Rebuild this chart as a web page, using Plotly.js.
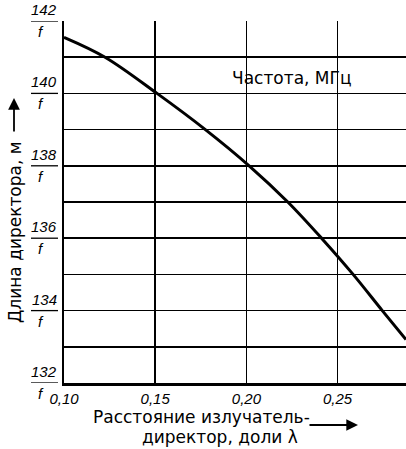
<!DOCTYPE html>
<html>
<head>
<meta charset="utf-8">
<script src="https://cdn.plot.ly/plotly-3.0.1.min.js"></script>
<style>html,body{margin:0;padding:0;background:#fff;}#chart{width:406px;height:449px;}</style>
</head>
<body>
<div id="chart"></div>
<script>
// Data
const spacing = [0.100, 0.1225, 0.1510, 0.1775, 0.2015, 0.2227, 0.2412, 0.2585, 0.2745, 0.2875];
const length  = [141.55, 141.0, 140.0, 139.0, 138.0, 137.0, 136.0, 135.0, 134.0, 133.2];
const xTickVals = [0.10, 0.15, 0.20, 0.25];
const xTickText = ["0,10", "0,15", "0,20", "0,25"];
const yGridVals = [132, 133, 134, 135, 136, 137, 138, 139, 140, 141, 142];
const yLabelVals = [132, 134, 136, 138, 140, 142];
const yLabelNum = ["132", "134", "136", "138", "140", "142"];
const yLabelDen = "f";
const curveLabel = "Частота, МГц";
const yTitle = "Длина директора, м";
const xTitle1 = "Расстояние излучатель-";
const xTitle2 = "директор, доли λ";

const FONT = "DejaVu Sans, Liberation Sans, Arial, sans-serif";
const NARROW = "Liberation Sans Narrow, Liberation Sans, Arial, sans-serif";
const W = 406, H = 449, ML = 64, MR = 0, MT = 21, MB = 66;
const PW = W - ML - MR, PH = H - MT - MB;
const px = v => (v - ML) / PW;          // pixel x -> paper x
const py = v => (H - MB - v) / PH;      // pixel y -> paper y

const annotations = [];
const shapes = [];
yLabelVals.forEach((v, i) => {
  annotations.push({xref: 'paper', yref: 'y', x: px(44), y: v, yshift: 1,
    text: '<i>' + yLabelNum[i] + '</i>', showarrow: false, xanchor: 'center', yanchor: 'bottom',
    font: {family: NARROW, size: 15, color: '#000'}});
  annotations.push({xref: 'paper', yref: 'y', x: px(41), y: v, yshift: 0,
    text: '<i>' + yLabelDen + '</i>', showarrow: false, xanchor: 'center', yanchor: 'top',
    font: {family: NARROW, size: 15, color: '#000'}});
  shapes.push({type: 'line', xref: 'paper', yref: 'y', x0: px(31), x1: px(58), y0: v, y1: v,
    line: {color: '#000', width: 1.3}});
});
// curve label
annotations.push({xref: 'paper', yref: 'paper', x: px(291), y: py(78), text: curveLabel,
  showarrow: false, xanchor: 'center', yanchor: 'middle', font: {family: FONT, size: 17, color: '#000'}});
// y title + arrow
annotations.push({xref: 'paper', yref: 'paper', x: px(15), y: py(232), text: yTitle, textangle: -90,
  showarrow: false, xanchor: 'center', yanchor: 'middle', font: {family: FONT, size: 17, color: '#000'}});
annotations.push({xref: 'paper', yref: 'paper', x: px(14), y: py(98), text: '', showarrow: true,
  ax: 0, ay: 35, arrowhead: 2, arrowsize: 1.3, arrowwidth: 1.8, arrowcolor: '#000'});
// x title + arrow
annotations.push({xref: 'paper', yref: 'paper', x: px(201), y: py(417), text: xTitle1,
  showarrow: false, xanchor: 'center', yanchor: 'middle', font: {family: FONT, size: 17, color: '#000'}});
annotations.push({xref: 'paper', yref: 'paper', x: px(220), y: py(437), text: xTitle2,
  showarrow: false, xanchor: 'center', yanchor: 'middle', font: {family: FONT, size: 17, color: '#000'}});
annotations.push({xref: 'paper', yref: 'paper', x: px(358), y: py(425), text: '', showarrow: true,
  ax: -50, ay: 0, arrowhead: 2, arrowsize: 1.3, arrowwidth: 1.8, arrowcolor: '#000'});

const trace = {x: spacing, y: length, type: 'scatter', mode: 'lines',
  line: {color: '#000', width: 3, shape: 'spline', smoothing: 1}, hoverinfo: 'skip'};

const layout = {
  width: W, height: H,
  margin: {l: ML, r: MR, t: MT, b: MB, pad: 0},
  paper_bgcolor: '#fff', plot_bgcolor: '#fff',
  showlegend: false,
  xaxis: {range: [0.10, 0.2875], tickvals: xTickVals, ticktext: xTickText.map(t => '<i>' + t + '</i>'),
    showgrid: true, gridcolor: '#000', gridwidth: 1.5, zeroline: false,
    showline: true, linecolor: '#000', linewidth: 2.5, ticks: '',
    tickfont: {family: NARROW, size: 15, color: '#000'}},
  yaxis: {range: [132, 142], tickvals: yGridVals, showticklabels: false,
    showgrid: true, gridcolor: '#000', gridwidth: 1.5, zeroline: false,
    showline: true, linecolor: '#000', linewidth: 2.5, ticks: ''},
  annotations: annotations,
  shapes: shapes
};
Plotly.newPlot('chart', [trace], layout, {staticPlot: true, displayModeBar: false});
</script>
</body>
</html>
